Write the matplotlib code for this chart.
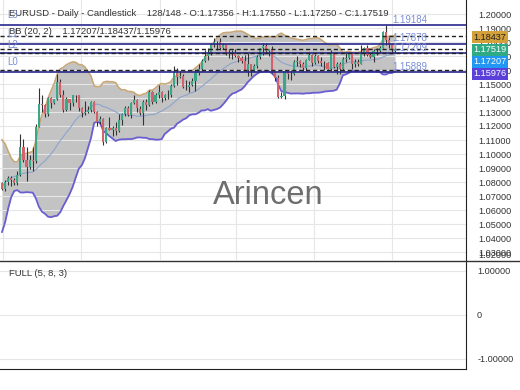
import numpy as np
import matplotlib.pyplot as plt
from matplotlib.patches import Rectangle
from matplotlib.lines import Line2D

plt.rcParams['font.family'] = ['Liberation Sans', 'DejaVu Sans']

# closes before the visible window, only used to warm up the bands
warmup_closes = [1.0398, 1.0375, 1.0485, 1.0625, 1.0790, 1.0785, 1.0833, 1.0833,
                 1.0918, 1.0889, 1.0853, 1.0882, 1.0922, 1.0946, 1.0895, 1.0854,
                 1.0816, 1.0802, 1.0790]

opens = [1.0790, 1.0753, 1.0800, 1.0829, 1.0816, 1.0793, 1.0852, 1.1047, 1.0955, 1.0910,
         1.0960, 1.0950, 1.1195, 1.1357, 1.1348, 1.1283, 1.1398, 1.1366, 1.1393, 1.1511,
         1.1420, 1.1313, 1.1390, 1.1365, 1.1420, 1.1423, 1.1328, 1.1290, 1.1298, 1.1315,
         1.1368, 1.1302, 1.1232, 1.1252, 1.1089, 1.1187, 1.1175, 1.1187, 1.1164, 1.1244,
         1.1284, 1.1330, 1.1282, 1.1364, 1.1385, 1.1325, 1.1290, 1.1370, 1.1347, 1.1442,
         1.1372, 1.1418, 1.1445, 1.1397, 1.1420, 1.1425, 1.1488, 1.1585, 1.1550, 1.1560,
         1.1477, 1.1480, 1.1495, 1.1523, 1.1578, 1.1610, 1.1665, 1.1700, 1.1718, 1.1787,
         1.1803, 1.1797, 1.1758, 1.1778, 1.1718, 1.1724, 1.1719, 1.1703, 1.1689, 1.1664,
         1.1598, 1.1640, 1.1596, 1.1626, 1.1692, 1.1755, 1.1773, 1.1739, 1.1742, 1.1588,
         1.1544, 1.1405, 1.1415, 1.1590, 1.1570, 1.1575, 1.1660, 1.1665, 1.1640, 1.1615,
         1.1675, 1.1705, 1.1648, 1.1700, 1.1665, 1.1650, 1.1650, 1.1610, 1.1720, 1.1620,
         1.1640, 1.1605, 1.1680, 1.1685, 1.1715, 1.1640, 1.1660, 1.1645, 1.1717, 1.1760,
         1.1710, 1.1695, 1.1735, 1.1735, 1.1760, 1.1870, 1.1815, 1.1785, 1.17356]
highs = [1.0800, 1.0815, 1.0840, 1.0845, 1.0830, 1.0880, 1.1144, 1.1107, 1.1050, 1.0990,
         1.1050, 1.1215, 1.1474, 1.1420, 1.1355, 1.1405, 1.1405, 1.1395, 1.1573, 1.1535,
         1.1455, 1.1410, 1.1395, 1.1425, 1.1425, 1.1425, 1.1335, 1.1380, 1.1340, 1.1380,
         1.1380, 1.1310, 1.1270, 1.1260, 1.1195, 1.1265, 1.1200, 1.1230, 1.1285, 1.1290,
         1.1345, 1.1345, 1.1375, 1.1420, 1.1390, 1.1345, 1.1385, 1.1390, 1.1455, 1.1450,
         1.1435, 1.1495, 1.1450, 1.1430, 1.1455, 1.1500, 1.1630, 1.1615, 1.1595, 1.1575,
         1.1530, 1.1520, 1.1545, 1.1590, 1.1640, 1.1680, 1.1745, 1.1755, 1.1790, 1.1830,
         1.1810, 1.1830, 1.1790, 1.1785, 1.1750, 1.1745, 1.1750, 1.1710, 1.1700, 1.1710,
         1.1720, 1.1640, 1.1645, 1.1705, 1.1760, 1.1790, 1.1790, 1.1750, 1.1770, 1.1595,
         1.1565, 1.1445, 1.1600, 1.1595, 1.1600, 1.1670, 1.1700, 1.1675, 1.1660, 1.1680,
         1.1730, 1.1715, 1.1715, 1.1705, 1.1690, 1.1665, 1.1660, 1.1740, 1.1725, 1.1660,
         1.1655, 1.1690, 1.1730, 1.1725, 1.1720, 1.1680, 1.1680, 1.1780, 1.1765, 1.1780,
         1.1725, 1.1750, 1.1755, 1.1770, 1.1878, 1.1918, 1.1835, 1.1795, 1.17550]
lows = [1.0745, 1.0735, 1.0780, 1.0770, 1.0780, 1.0780, 1.0845, 1.0945, 1.0810, 1.0890,
        1.0880, 1.0935, 1.1190, 1.1300, 1.1265, 1.1270, 1.1330, 1.1360, 1.1385, 1.1410,
        1.1300, 1.1310, 1.1315, 1.1345, 1.1370, 1.1310, 1.1265, 1.1280, 1.1290, 1.1300,
        1.1290, 1.1200, 1.1215, 1.1065, 1.1080, 1.1170, 1.1130, 1.1135, 1.1160, 1.1210,
        1.1270, 1.1270, 1.1260, 1.1360, 1.1300, 1.1280, 1.1210, 1.1315, 1.1345, 1.1355,
        1.1365, 1.1400, 1.1375, 1.1385, 1.1395, 1.1410, 1.1480, 1.1490, 1.1540, 1.1475,
        1.1460, 1.1445, 1.1485, 1.1450, 1.1565, 1.1590, 1.1660, 1.1670, 1.1705, 1.1765,
        1.1745, 1.1745, 1.1750, 1.1705, 1.1685, 1.1680, 1.1690, 1.1655, 1.1650, 1.1590,
        1.1555, 1.1555, 1.1585, 1.1615, 1.1680, 1.1710, 1.1720, 1.1700, 1.1580, 1.1520,
        1.1400, 1.1400, 1.1390, 1.1535, 1.1530, 1.1565, 1.1630, 1.1620, 1.1590, 1.1595,
        1.1670, 1.1630, 1.1645, 1.1650, 1.1630, 1.1600, 1.1605, 1.1595, 1.1615, 1.1575,
        1.1575, 1.1600, 1.1660, 1.1680, 1.1605, 1.1625, 1.1630, 1.1640, 1.1700, 1.1700,
        1.1685, 1.1660, 1.1710, 1.1725, 1.1755, 1.1780, 1.1760, 1.1725, 1.17250]
closes = [1.0753, 1.0800, 1.0829, 1.0816, 1.0793, 1.0852, 1.1047, 1.0955, 1.0910, 1.0960,
          1.0950, 1.1195, 1.1357, 1.1348, 1.1283, 1.1398, 1.1366, 1.1393, 1.1511, 1.1420,
          1.1313, 1.1390, 1.1365, 1.1420, 1.1423, 1.1328, 1.1290, 1.1298, 1.1315, 1.1368,
          1.1302, 1.1232, 1.1252, 1.1089, 1.1187, 1.1175, 1.1187, 1.1164, 1.1244, 1.1284,
          1.1330, 1.1282, 1.1364, 1.1385, 1.1325, 1.1290, 1.1370, 1.1347, 1.1442, 1.1372,
          1.1418, 1.1445, 1.1397, 1.1420, 1.1425, 1.1488, 1.1585, 1.1550, 1.1560, 1.1477,
          1.1480, 1.1495, 1.1523, 1.1578, 1.1610, 1.1665, 1.1700, 1.1718, 1.1787, 1.1803,
          1.1797, 1.1758, 1.1778, 1.1718, 1.1724, 1.1719, 1.1703, 1.1689, 1.1664, 1.1598,
          1.1640, 1.1596, 1.1626, 1.1692, 1.1755, 1.1773, 1.1739, 1.1742, 1.1588, 1.1544,
          1.1405, 1.1415, 1.1590, 1.1570, 1.1575, 1.1660, 1.1665, 1.1640, 1.1615, 1.1675,
          1.1705, 1.1648, 1.1700, 1.1665, 1.1650, 1.1650, 1.1610, 1.1720, 1.1620, 1.1640,
          1.1605, 1.1680, 1.1685, 1.1715, 1.1640, 1.1660, 1.1645, 1.1717, 1.1760, 1.1710,
          1.1695, 1.1735, 1.1735, 1.1760, 1.1870, 1.1815, 1.1785, 1.1745, 1.17519]

level_values = [1.19184, 1.17878, 1.17209, 1.15889]     # L3, L2, L1, L0 lines
level_names = ['L3', 'L1', 'L2', 'L0']
bb_values = [1.18437, 1.17519, 1.17207, 1.15976]        # upper, close, middle, lower
bb_colors = ['#d4a03a', '#2eaa84', '#2196f3', '#5b3fd9']
bb_text_colors = ['#222222', 'white', 'white', 'white']
price_ticks = np.round(np.arange(1.03, 1.2001, 0.01), 2)
osc_ticks = [1.0, 0.0, -1.0]
osc_labels = ['1.00000', '0', '-1.00000']

W, H = 520, 390
fig = plt.figure(figsize=(5.2, 3.9), dpi=100)
ax = fig.add_axes([0, 1 - 260 / H, 466 / W, 260 / H])
ax2 = fig.add_axes([0, 1 - 369 / H, 466 / W, 109 / H])

n = len(closes)
x = np.arange(n)
o = np.array(opens); h = np.array(highs); l = np.array(lows); c = np.array(closes)

# Bollinger bands (20, 2)
allc = np.array(warmup_closes + closes)
mid = np.array([allc[i - 19:i + 1].mean() for i in range(19, len(allc))])
sd = np.array([allc[i - 19:i + 1].std() for i in range(19, len(allc))])
upper = mid + 2 * sd
lower = mid - 2 * sd

ax.fill_between(x, lower, upper, color='#bdbdbd', alpha=0.9, lw=0, zorder=1)
ax.plot(x, upper, color='#c9a878', lw=1.2, zorder=2)
ax.plot(x, lower, color='#6a5ed2', lw=1.3, zorder=2)
ax.plot(x, mid, color='#8ea4cc', lw=0.8, zorder=2)

up = c >= o
ax.vlines(x, l, h, color='#333333', lw=0.8, zorder=3)
ax.bar(x, np.where(np.abs(c - o) < 0.0003, 0.0003, c - o), bottom=o, width=0.7,
       color=np.where(up, '#3aa887', '#d4626a'), lw=0, zorder=4)

for v in level_values:
    ax.axhline(v, color='#27288f', lw=1.2, zorder=5)
for v in bb_values:
    ax.axhline(v, color='#222222', lw=1.0, ls=(0, (3, 2)), zorder=5)

ax.set_xlim(-0.65, 151.1)
ax.set_ylim(1.2 - 246 / 1400, 1.21)
ax.set_yticks(price_ticks)
ax.set_yticklabels([f'{t:.5f}' for t in price_ticks])
ax.yaxis.tick_right()
ax.tick_params(axis='y', length=0, pad=9, labelsize=6.6, labelcolor='#333333')
ax.set_xticks([])
ax.grid(axis='y', color='#e6e6e6', lw=0.8, zorder=0)
for gx in [0.3, 25.7, 51.5, 76.2, 101.6, 127.0]:
    ax.axvline(gx, color='#e6e6e6', lw=0.8, zorder=0)
for s in ['top', 'left', 'bottom']:
    ax.spines[s].set_visible(False)
ax.spines['right'].set_color('#222222')

ax2.set_xlim(ax.get_xlim())
ax2.set_ylim(-1.23, 1.25)
ax2.set_yticks(osc_ticks)
ax2.set_yticklabels(osc_labels)
ax2.yaxis.tick_right()
ax2.tick_params(axis='y', length=0, pad=8, labelsize=6.6, labelcolor='#333333')
ax2.set_xticks([])
ax2.grid(axis='y', color='#e6e6e6', lw=0.8)
for s in ['top', 'left']:
    ax2.spines[s].set_visible(False)
ax2.spines['right'].set_color('#222222')
ax2.spines['bottom'].set_color('#222222')

def fy(py):
    return 1 - py / H

fig.add_artist(Line2D([0, 1], [fy(260.5), fy(260.5)], color='#333333', lw=1.0))
fig.text(478 / W, fy(256), '1.02000', fontsize=6.6, color='#333333', va='center')

# text overlays
fig.text(9 / W, fy(13), 'EURUSD - Daily - Candlestick    128/148 - O:1.17356 - H:1.17550 - L:1.17250 - C:1.17519',
         fontsize=6.8, color='#333333', va='center')
fig.text(9 / W, fy(31), 'BB (20, 2)    1.17207/1.18437/1.15976', fontsize=6.8, color='#333333', va='center')
for name, py in zip(level_names, [15, 34, 45, 62]):
    fig.text(7 / W, fy(py), name, fontsize=7, color='#7b8fd8', va='center')
for lab, py in zip(['1.19184', '1.17878', '1.17209', '1.15889'], [20, 38, 48, 67]):
    fig.text(392 / W, fy(py), lab, fontsize=7, color='#7b8fd8', va='center')

for v, col, tc, py in zip(bb_values, bb_colors, bb_text_colors, [31, 43.5, 55.5, 67.5]):
    fig.add_artist(Rectangle((472 / W, fy(py + 12)), 36 / W, 12 / H, color=col, lw=0))
    fig.text(490 / W, fy(py + 6), f'{v:.5f}', fontsize=6.6, color=tc, ha='center', va='center')

fig.text(268 / W, fy(195), 'Arincen', fontsize=23.5, color='#555555', alpha=0.85,
         ha='center', va='center')
fig.text(9 / W, fy(273), 'FULL (5, 8, 3)', fontsize=6.8, color='#333333', va='center')

fig.savefig('out.png', dpi=100)
